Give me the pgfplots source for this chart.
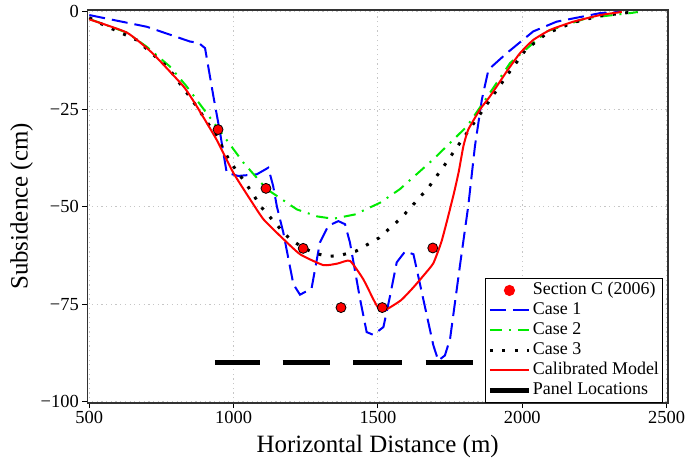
\documentclass[border=0pt]{standalone}
\usepackage{fontspec}
\setmainfont{Liberation Serif}
\usepackage{pgfplots}
\pgfplotsset{compat=1.18}

\definecolor{cblue}{RGB}{0,0,255}
\definecolor{cgreen}{RGB}{0,235,0}
\definecolor{cred}{RGB}{255,0,0}

\pgfplotsset{
  legline/.style={legend image code/.code={\draw[##1] (0bp,0bp) -- (39bp,0bp);}},
  legmark/.style={legend image code/.code={\fill[cred] (19.5bp,0bp) circle[radius=5bp];}},
}

\begin{document}
\begin{tikzpicture}
\useasboundingbox (-87.3bp,-59bp) rectangle (598.7bp,403bp);
\begin{axis}[
  scale only axis,
  width=580.7bp, height=393bp,
  xmin=493, xmax=2505,
  ymin=-100.4, ymax=0.5,
  xtick={500,1000,1500,2000,2500},
  ytick={-100,-75,-50,-25,0},
  yticklabels={−100,−75,−50,−25,0},
  xtick pos=bottom, ytick pos=left,
  tick align=outside,
  major tick length=5bp,
  tick style={black, line width=0.9bp},
  ticklabel style={font=\fontsize{18.5}{21}\selectfont},
  /pgf/number format/assume math mode=true,
  /pgf/number format/1000 sep={},
  grid=major,
  major grid style={gray!45, line width=0.9bp, dash pattern=on 1.2bp off 3.5bp},
  axis line style={black!80, line width=1.1bp},
  xlabel={Horizontal Distance (m)},
  ylabel={Subsidence (cm)},
  every axis x label/.style={at={(axis description cs:0.5,0)}, anchor=center, yshift=-43.5bp,
    font=\fontsize{25}{28}\selectfont},
  every axis y label/.style={at={(axis description cs:0,0.5)}, anchor=center, xshift=-65.6bp, rotate=90,
    font=\fontsize{25}{28}\selectfont},
  unbounded coords=jump,
  legend cell align=left,
  legline,
  legend style={at={(rel axis cs:1,0)}, xshift=-5bp, anchor=south east,
    font=\fontsize{18}{20}\selectfont, draw=black, line width=1.1bp, fill=white,
    inner sep=2bp, row sep=0bp,
    nodes={inner sep=1.5bp, text height=13bp, text depth=4bp}},
]
% Section C (2006) survey points
\addplot[only marks, mark=*, mark size=5bp, mark options={fill=cred, draw=black, line width=0.8bp}, legmark]
  coordinates {(946,-30.2) (1112,-45.3) (1241,-60.7) (1372,-75.9) (1515,-75.9) (1690,-60.6)};
\addlegendentry{Section C (2006)}

% Case 1
\addplot[cblue, line width=2bp, dash pattern=on 16bp off 7bp] coordinates {
  (500,-0.8) (699,-3.8) (849,-7.6) (878,-7.9) (901,-9.3) (930,-21.7) (953,-31)
  (976,-41.3) (1016,-42.1) (1080,-41.7) (1120,-40) (1137,-44.7) (1150,-50)
  (1172,-56.6) (1207,-69.9) (1230,-72.6) (1270,-71) (1299,-59.2) (1328,-54.9)
  (1363,-53.7) (1386,-54.5) (1403,-59.2) (1438,-73.7) (1461,-82.2) (1484,-82.9)
  (1519,-80.9) (1542,-72.9) (1565,-64.3) (1594,-61.5) (1623,-62.2) (1657,-73.7)
  (1692,-85.6) (1709,-89.5) (1732,-88.2) (1750,-83.9) (1784,-65.2) (1813,-49.8)
  (1836,-34.5) (1860,-22.5) (1883,-14.8) (1946,-10.6) (2038,-5) (2119,-2.5)
  (2270,-0.3) (2340,0)
};
\addlegendentry{Case 1}

% Case 2
\addplot[cgreen, line width=2bp, dash pattern=on 12bp off 7bp on 2bp off 7bp] coordinates {
  (500,-1.8) (630,-5.3) (700,-9) (779,-14) (837,-19.1) (941,-29.4) (1034,-38.7)
  (1115,-45.5) (1219,-50.7) (1290,-52.5) (1345,-53.1) (1420,-52) (1507,-49)
  (1576,-45.5) (1691,-37.9) (1808,-29.4) (1865,-23.3) (1958,-13.1) (2085,-5)
  (2223,-1.6) (2384,-0.2) (2400,0)
};
\addlegendentry{Case 2}

% Case 3
\addplot[black, line width=3bp, dash pattern=on 3bp off 9.5bp] coordinates {
  (500,-1.5) (537,-2.9) (664,-7.2) (774,-14.4) (860,-23) (941,-31.9) (988,-38.5)
  (1045,-44.3) (1097,-50.2) (1163,-55.8) (1195,-58.3) (1240,-60.5) (1280,-61.9)
  (1328,-62.8) (1374,-62.4) (1424,-61.4) (1504,-58) (1579,-53) (1611,-50.4)
  (1675,-45.1) (1732,-39.2) (1788,-33.2) (1845,-27.2) (1898,-21.5) (1955,-15.5)
  (2012,-9.7) (2085,-5.5) (2177,-2.7) (2270,-1) (2362,-0.2) (2400,0)
};
\addlegendentry{Case 3}

% Calibrated model
\addplot[cred, line width=2bp, smooth, tension=0.3] coordinates {
  (500,-1.9) (630,-5.3) (716,-10.4) (826,-19.1) (872,-24.2) (941,-32.8) (999,-41.3)
  (1057,-48.1) (1103,-53.2) (1161,-57.5) (1230,-62.2) (1311,-65.0) (1360,-64.6)
  (1403,-63.9) (1449,-68.6) (1496,-75.4) (1525,-76.5) (1580,-74) (1623,-70.7)
  (1660,-67.5) (1692,-64.5) (1720,-59) (1745,-52) (1765,-46) (1780,-41)
  (1796,-34.5) (1813,-30.2) (1854,-25) (1888,-21.7) (1946,-15.3) (1992,-10.6)
  (2038,-7.2) (2097,-4.6) (2177,-2.5) (2270,-0.8) (2345,0)
};
\addlegendentry{Calibrated Model}

% Panel locations
\addplot[black, line width=5bp] coordinates {
  (935,-90) (1090,-90) (1130,nan) (1170,-90) (1335,-90) (1375,nan)
  (1415,-90) (1585,-90) (1625,nan) (1665,-90) (1830,-90)
};
\addlegendentry{Panel Locations}
\end{axis}
\end{tikzpicture}
\end{document}
